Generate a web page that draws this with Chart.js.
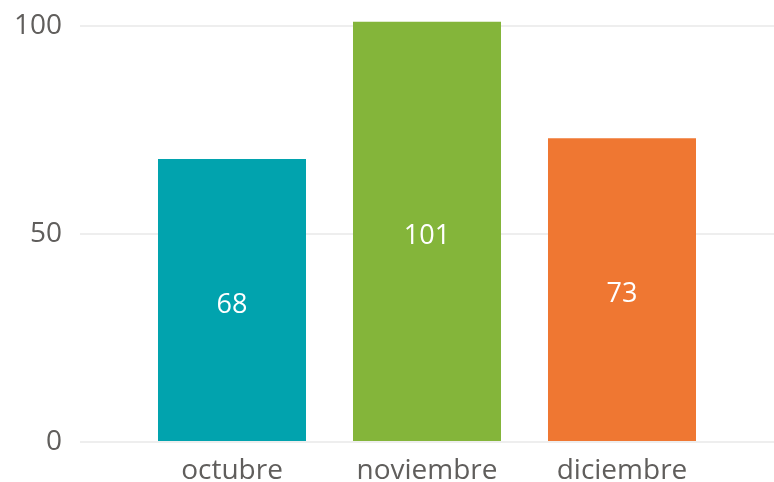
<!DOCTYPE html>
<html>
<head>
<meta charset="utf-8">
<script src="https://cdn.jsdelivr.net/npm/chart.js@4/dist/chart.umd.min.js"></script>
<style>
  body { margin: 0; background: #fff; }
  #wrap { width: 774px; height: 482px; }
</style>
</head>
<body>
<div id="wrap"><canvas id="grafico" width="774" height="482"></canvas></div>
<script>
// Datos
const meses = ['octubre', 'noviembre', 'diciembre'];
const valores = [68, 101, 73];
const colores = ['#01A3AE', '#84B53A', '#EF7732'];
const ticksY = [0, 50, 100];

const fuente = '"Open Sans", "Noto Sans", sans-serif';

// Etiquetas dentro de las barras
const etiquetasBarras = {
  id: 'etiquetasBarras',
  afterDatasetsDraw(chart) {
    const { ctx } = chart;
    const meta = chart.getDatasetMeta(0);
    ctx.save();
    ctx.font = '27px ' + fuente;
    ctx.fillStyle = '#ffffff';
    ctx.textAlign = 'center';
    ctx.textBaseline = 'middle';
    meta.data.forEach((bar, i) => {
      ctx.fillText(String(valores[i]), bar.x, (bar.y + bar.base) / 2 + 5);
    });
    ctx.restore();
  }
};

new Chart(document.getElementById('grafico'), {
  type: 'bar',
  data: {
    datasets: [{
      data: valores.map((v, i) => ({ x: i + 1, y: v })),
      backgroundColor: colores,
      borderWidth: 0,
      barPercentage: 1,
      categoryPercentage: 0.759
    }]
  },
  options: {
    responsive: false,
    animation: false,
    layout: { padding: 0 },
    plugins: {
      legend: { display: false },
      tooltip: { enabled: false }
    },
    scales: {
      x: {
        type: 'linear',
        min: 0.2205,
        max: 3.7795,
        offset: false,
        grid: { display: false, offset: false },
        border: { display: false },
        ticks: {
          stepSize: 1,
          autoSkip: false,
          maxRotation: 0,
          padding: 4,
          color: '#605E5C',
          font: { family: fuente, size: 28 },
          callback: v => meses[v - 1] || ''
        },
        afterBuildTicks: s => { s.ticks = s.ticks.filter(t => Number.isInteger(t.value) && meses[t.value - 1]); },
        afterFit: s => { s.height = 40; s.paddingLeft = 0; s.paddingRight = 0; }
      },
      y: {
        min: 0,
        max: 106.25,
        grid: { color: '#EEEEEE', lineWidth: 2, drawTicks: false },
        border: { display: false },
        ticks: {
          padding: 18,
          color: '#605E5C',
          font: { family: fuente, size: 28 }
        },
        afterBuildTicks: s => { s.ticks = ticksY.map(v => ({ value: v })); },
        afterFit: s => { s.width = 80; s.paddingTop = 0; s.paddingBottom = 0; }
      }
    }
  },
  plugins: [etiquetasBarras]
});
</script>
</body>
</html>
